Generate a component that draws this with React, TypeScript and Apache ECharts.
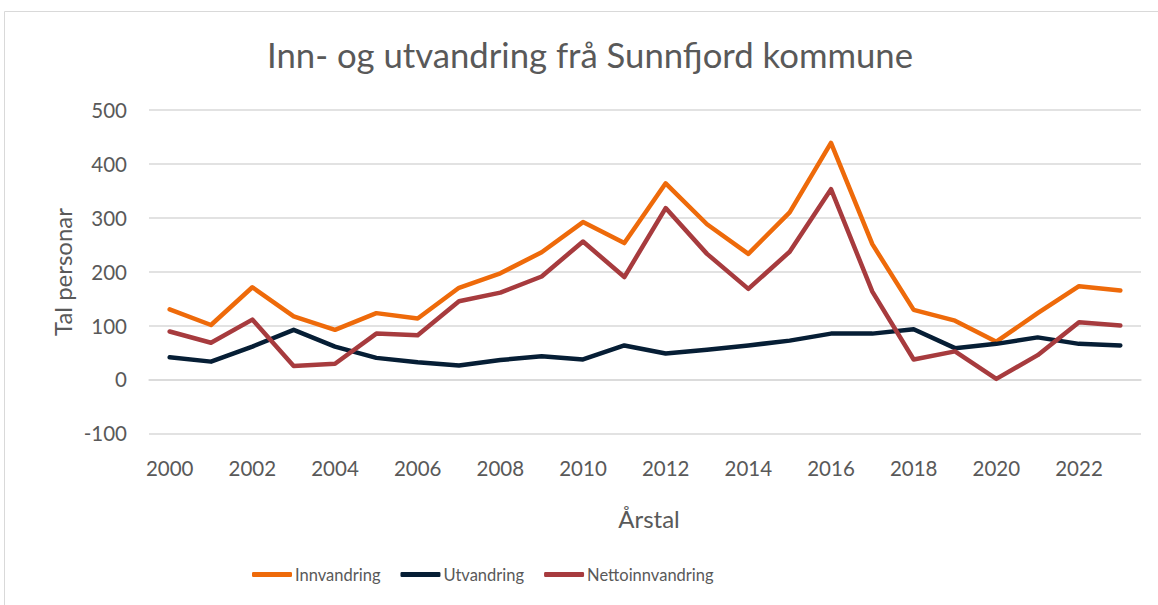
import React, { useEffect, useRef } from "react";
import * as echarts from "echarts";

const years = [
  "2000", "2001", "2002", "2003", "2004", "2005", "2006", "2007", "2008", "2009", "2010", "2011",
  "2012", "2013", "2014", "2015", "2016", "2017", "2018", "2019", "2020", "2021", "2022", "2023",
];
const innvandring = [130, 101, 171, 117, 92, 123, 113, 170, 197, 236, 292, 253, 364, 288, 233, 310, 439, 251, 129, 109, 70, 123, 173, 165];
const utvandring = [41, 33, 61, 92, 61, 40, 32, 26, 36, 43, 37, 63, 48, 55, 63, 72, 85, 85, 93, 58, 66, 78, 66, 63];
const netto = [89, 68, 111, 25, 29, 85, 82, 145, 161, 191, 256, 190, 318, 233, 168, 237, 353, 163, 37, 52, 1, 45, 106, 100];

const seriesNames = ["Innvandring", "Utvandring", "Nettoinnvandring"];
const colors = ["#EE6A0A", "#061E35", "#A73B3E"];
const titleText = "Inn- og utvandring frå Sunnfjord kommune";
const xTitle = "Årstal";
const yTitle = "Tal personar";

const FONT = "Lato, 'Open Sans', sans-serif";
const TXT = "#595959";

export default function App() {
  const ref = useRef<HTMLDivElement>(null);
  useEffect(() => {
    if (!ref.current) return;
    const chart = echarts.init(ref.current, null, { renderer: "svg" });
    const data = [innvandring, utvandring, netto];
    chart.setOption({
      animation: false,
      backgroundColor: "#ffffff",
      textStyle: { fontFamily: FONT, color: TXT },
      graphic: [
        {
          type: "rect",
          shape: { x: 4.5, y: 11.5, width: 1170, height: 620 },
          style: { fill: "none", stroke: "#D9D9D9", lineWidth: 1 },
          silent: true,
        },
        {
          type: "text",
          x: 590,
          y: 54,
          style: {
            text: titleText,
            fontFamily: FONT,
            fontSize: 34.7,
            fill: TXT,
            textAlign: "center",
            textVerticalAlign: "middle",
          },
        },
        {
          type: "text",
          x: 649,
          y: 518,
          style: {
            text: xTitle,
            fontFamily: FONT,
            fontSize: 24,
            fill: TXT,
            textAlign: "center",
            textVerticalAlign: "middle",
          },
        },
        {
          type: "text",
          x: 62,
          y: 272,
          rotation: Math.PI / 2,
          style: {
            text: yTitle,
            fontFamily: FONT,
            fontSize: 24,
            fill: TXT,
            textAlign: "center",
            textVerticalAlign: "middle",
          },
        },
      ],
      legend: {
        left: 247,
        top: 561,
        itemWidth: 40,
        itemHeight: 5,
        itemGap: 20,
        icon: "roundRect",
        textStyle: { fontFamily: FONT, fontSize: 16.5, color: TXT, padding: [0, 0, 0, -2] },
        data: seriesNames,
      },
      grid: { left: 149, top: 110, width: 992, height: 323.3, containLabel: false },
      xAxis: {
        type: "category",
        data: years,
        boundaryGap: true,
        axisLine: { show: true, lineStyle: { color: "#D9D9D9", width: 1.5 } },
        axisTick: { show: false },
        axisLabel: { interval: 1, fontFamily: FONT, fontSize: 20.5, color: TXT, margin: 24 },
      },
      yAxis: {
        type: "value",
        min: -100,
        max: 500,
        interval: 100,
        axisLine: { show: false },
        axisTick: { show: false },
        splitLine: { lineStyle: { color: "#D9D9D9", width: 1.5 } },
        axisLabel: { fontFamily: FONT, fontSize: 20.5, color: TXT, margin: 22 },
      },
      series: seriesNames.map((name, i) => ({
        name,
        type: "line",
        data: data[i],
        symbol: "none",
        color: colors[i],
        lineStyle: { width: 4.5, color: colors[i], cap: "round", join: "round" },
        itemStyle: { color: colors[i] },
      })),
    });
    return () => chart.dispose();
  }, []);
  return <div ref={ref} style={{ position: "fixed", left: 0, top: 0, width: 1158, height: 605 }} />;
}
